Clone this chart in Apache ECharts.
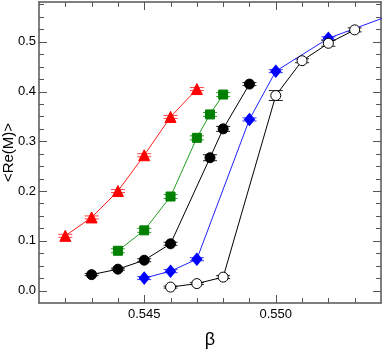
<!DOCTYPE html>
<html>
<head>
<meta charset="utf-8">
<script src="https://cdn.jsdelivr.net/npm/echarts@6/dist/echarts.min.js"></script>
<style>
  html, body { margin: 0; padding: 0; background: #fff; }
  #main { width: 382px; height: 349px; }
</style>
</head>
<body>
<div id="main"></div>
<script>
// data
var redX = [0.542, 0.543, 0.544, 0.545, 0.546, 0.547];
var redY = [0.110, 0.147, 0.200, 0.272, 0.349, 0.405];
var redErr = [0.003, 0.003, 0.003, 0.003, 0.003, 0.003];

var greenX = [0.544, 0.545, 0.546, 0.547, 0.5475, 0.548];
var greenY = [0.080, 0.121, 0.189, 0.307, 0.354, 0.394];
var greenErr = [0.004, 0.004, 0.004, 0.004, 0.004, 0.004];

var blackX = [0.543, 0.544, 0.545, 0.546, 0.5475, 0.548, 0.549];
var blackY = [0.032, 0.043, 0.061, 0.094, 0.267, 0.325, 0.415];
var blackErr = [0.002, 0.002, 0.003, 0.003, 0.006, 0.005, 0.003];

var blueX = [0.545, 0.546, 0.547, 0.549, 0.550, 0.552, 0.555];
var blueY = [0.025, 0.039, 0.063, 0.344, 0.441, 0.507, 0.566];
var blueErr = [0.003, 0.003, 0.003, 0.003, 0.003, 0.003, 0];

var openX = [0.546, 0.547, 0.548, 0.550, 0.551, 0.552, 0.553];
var openY = [0.007, 0.014, 0.027, 0.392, 0.462, 0.497, 0.524];
var openErr = [0.002, 0.002, 0.003, 0.010, 0.004, 0.006, 0.004];

// tick positions
var xMajor = [0.545, 0.550];
var xMinor = [0.542, 0.543, 0.544, 0.546, 0.547, 0.548, 0.549, 0.551, 0.552, 0.553];
var yMajor = [0.0, 0.1, 0.2, 0.3, 0.4, 0.5];
var yMinor = [0.025, 0.05, 0.075, 0.125, 0.15, 0.175, 0.225, 0.25, 0.275,
              0.325, 0.35, 0.375, 0.425, 0.45, 0.475, 0.525, 0.55, 0.575];

var FONT = "Liberation Sans";

function pts(xs, ys) {
    return xs.map(function (x, i) { return [x, ys[i]]; });
}
function errPts(xs, ys, es) {
    return xs.map(function (x, i) { return [x, ys[i], es[i]]; });
}

// vertical error bar with caps
function errBars(xs, ys, es, color) {
    return {
        type: "custom",
        clip: true,
        z: 1,
        data: errPts(xs, ys, es),
        renderItem: function (params, api) {
            var x = api.value(0), y = api.value(1), e = api.value(2);
            var lo = api.coord([x, y - e]);
            var hi = api.coord([x, y + e]);
            var w = 7;
            var st = { stroke: color, lineWidth: 1 };
            return {
                type: "group",
                children: [
                    { type: "line", shape: { x1: lo[0], y1: lo[1], x2: hi[0], y2: hi[1] }, style: st },
                    { type: "line", shape: { x1: lo[0] - w, y1: lo[1], x2: lo[0] + w, y2: lo[1] }, style: st },
                    { type: "line", shape: { x1: hi[0] - w, y1: hi[1], x2: hi[0] + w, y2: hi[1] }, style: st }
                ]
            };
        }
    };
}

// inward ticks on both opposite sides of the frame
function frameTicks(vals, isX, L) {
    return {
        type: "custom",
        silent: true,
        z: 3,
        data: vals.map(function (v) { return isX ? [v, 0.2] : [0.547, v]; }),
        renderItem: function (params, api) {
            var cs = params.coordSys;
            var p = api.coord([api.value(0), api.value(1)]);
            var st = { stroke: "#555", lineWidth: 1 };
            var x0 = cs.x, x1 = cs.x + cs.width, y0 = cs.y, y1 = cs.y + cs.height;
            if (isX) {
                var px = Math.round(p[0]) + 0.5;
                return { type: "group", children: [
                    { type: "line", shape: { x1: px, y1: y1, x2: px, y2: y1 - L }, style: st },
                    { type: "line", shape: { x1: px, y1: y0, x2: px, y2: y0 + L }, style: st }
                ]};
            }
            var py = Math.round(p[1]) + 0.5;
            return { type: "group", children: [
                { type: "line", shape: { x1: x0, y1: py, x2: x0 + L, y2: py }, style: st },
                { type: "line", shape: { x1: x1, y1: py, x2: x1 - L, y2: py }, style: st }
            ]};
        }
    };
}

function lineSeries(xs, ys, lineColor, symbol, size, fill, border) {
    return {
        type: "line",
        data: pts(xs, ys),
        z: 2,
        symbol: symbol,
        symbolSize: size,
        showAllSymbol: true,
        lineStyle: { color: lineColor, width: 1 },
        itemStyle: { color: fill, borderColor: border || fill, borderWidth: 1 },
        animation: false
    };
}

var axisLine = { show: true, onZero: false, lineStyle: { color: "#555", width: 1.5 } };

var chart = echarts.init(document.getElementById("main"));
chart.setOption({
    animation: false,
    backgroundColor: "#fff",
    grid: { left: 39, right: 1, top: 2, bottom: 46, outerBoundsMode: "none", containLabel: false },
    xAxis: [{
        type: "value", min: 0.541, max: 0.554, interval: 0.001,
        position: "bottom",
        axisLine: axisLine,
        axisTick: { show: false },
        splitLine: { show: false },
        axisLabel: {
            color: "#000", fontFamily: FONT, fontSize: 13, margin: 5,
            showMinLabel: false, showMaxLabel: false,
            formatter: function (v) {
                var k = Math.round(v * 1000);
                return k % 5 === 0 ? (k / 1000).toFixed(3) : "";
            }
        },
        name: "β", nameLocation: "middle", nameGap: 28, nameMoveOverlap: false,
        nameTextStyle: { color: "#000", fontFamily: FONT, fontSize: 18 }
    }, {
        type: "value", min: 0.541, max: 0.554,
        position: "top",
        axisLine: axisLine,
        axisTick: { show: false },
        splitLine: { show: false },
        axisLabel: { show: false }
    }],
    yAxis: [{
        type: "value", min: -0.025, max: 0.58, interval: 0.025,
        position: "left",
        axisLine: axisLine,
        axisTick: { show: false },
        splitLine: { show: false },
        axisLabel: {
            color: "#000", fontFamily: FONT, fontSize: 13, margin: 3,
            showMinLabel: false, showMaxLabel: false,
            formatter: function (v) {
                var k = Math.round(v * 1000);
                return (k % 100 === 0 && k >= 0) ? (k / 1000).toFixed(1) : "";
            }
        },
        name: "<Re(M)>", nameLocation: "middle", nameGap: 23, nameRotate: 90,
        nameMoveOverlap: false,
        nameTextStyle: { color: "#000", fontFamily: FONT, fontSize: 15 }
    }, {
        type: "value", min: -0.025, max: 0.58,
        position: "right",
        axisLine: axisLine,
        axisTick: { show: false },
        splitLine: { show: false },
        axisLabel: { show: false }
    }],
    series: [
        frameTicks(xMajor, true, 8),
        frameTicks(xMinor, true, 5),
        frameTicks(yMajor, false, 8),
        frameTicks(yMinor, false, 5),
        errBars(redX, redY, redErr, "#ff4040"),
        errBars(greenX, greenY, greenErr, "#30a030"),
        errBars(blackX, blackY, blackErr, "#222"),
        errBars(blueX, blueY, blueErr, "#3030ff"),
        errBars(openX, openY, openErr, "#222"),
        lineSeries(redX, redY, "#ff2020", "triangle", 11, "#ff0000"),
        lineSeries(greenX, greenY, "#20a020", "rect", 9, "#008000"),
        lineSeries(blackX, blackY, "#000", "circle", 10, "#000"),
        lineSeries(blueX, blueY, "#2020ff", "diamond", [10, 12], "#0000ff"),
        lineSeries(openX, openY, "#000", "circle", 10, "#fff", "#000")
    ]
});
</script>
</body>
</html>
